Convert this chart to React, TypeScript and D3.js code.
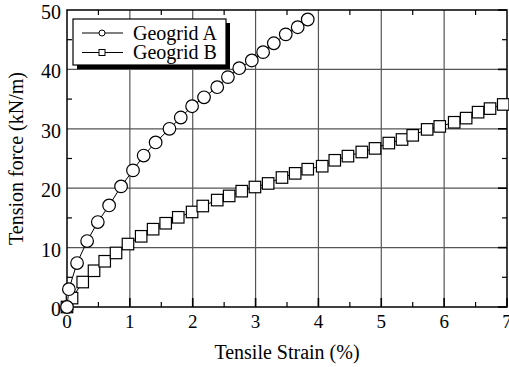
import React, { useEffect, useRef } from 'react';
import * as d3 from 'd3';

// Geogrid A (circles): strain %, tension kN/m
const strainA = [0, 0.03, 0.16, 0.32, 0.49, 0.67, 0.86, 1.05, 1.22, 1.41, 1.63, 1.81, 1.99, 2.18, 2.39, 2.56, 2.74, 2.94, 3.12, 3.29, 3.48, 3.67, 3.83];
const forceA = [0, 3.0, 7.4, 11.1, 14.3, 17.1, 20.3, 23.0, 25.5, 27.7, 30.0, 31.9, 33.8, 35.3, 37.0, 38.7, 40.2, 41.5, 42.9, 44.4, 45.9, 47.1, 48.4];

// Geogrid B (squares)
const strainB = [0, 0.08, 0.25, 0.43, 0.60, 0.78, 0.97, 1.18, 1.37, 1.57, 1.77, 1.99, 2.16, 2.39, 2.58, 2.78, 2.99, 3.20, 3.42, 3.63, 3.83, 4.06, 4.26, 4.47, 4.69, 4.90, 5.12, 5.33, 5.50, 5.73, 5.93, 6.16, 6.35, 6.54, 6.73, 6.94];
const forceB = [0, 1.5, 4.2, 6.1, 7.7, 9.1, 10.6, 11.9, 13.1, 14.1, 15.1, 16.0, 17.0, 18.0, 18.7, 19.5, 20.2, 20.8, 21.8, 22.5, 23.2, 23.7, 24.7, 25.4, 26.1, 26.7, 27.6, 28.2, 28.9, 29.9, 30.4, 31.1, 31.8, 32.8, 33.4, 34.1];

const xTicks = [0, 1, 2, 3, 4, 5, 6, 7];
const yTicks = [0, 10, 20, 30, 40, 50];
const seriesNames = ['Geogrid A', 'Geogrid B'];

const FONT = "'Liberation Serif', 'Times New Roman', Times, serif";

const App = () => {
  const ref = useRef<SVGSVGElement>(null);

  useEffect(() => {
    const svg = d3.select(ref.current);
    svg.selectAll('*').remove();

    const left = 67, right = 507, top = 10, bottom = 307;
    const x = d3.scaleLinear().domain([0, 7]).range([left, right]);
    const y = d3.scaleLinear().domain([0, 50]).range([bottom, top]);

    // grid
    const grid = svg.append('g').attr('stroke', '#555').attr('stroke-width', 1.2);
    xTicks.slice(1, -1).forEach(t => {
      grid.append('line').attr('x1', x(t)).attr('x2', x(t)).attr('y1', top).attr('y2', bottom);
    });
    yTicks.slice(1, -1).forEach(t => {
      grid.append('line').attr('x1', left).attr('x2', right).attr('y1', y(t)).attr('y2', y(t));
    });

    // minor and major ticks
    const ticks = svg.append('g').attr('stroke', '#000').attr('stroke-width', 1.2);
    d3.range(0.5, 7, 1).forEach(t => {
      ticks.append('line').attr('x1', x(t)).attr('x2', x(t)).attr('y1', bottom).attr('y2', bottom - 5);
      ticks.append('line').attr('x1', x(t)).attr('x2', x(t)).attr('y1', top).attr('y2', top + 5);
    });
    d3.range(5, 50, 10).forEach(t => {
      ticks.append('line').attr('x1', left).attr('x2', left + 5).attr('y1', y(t)).attr('y2', y(t));
      ticks.append('line').attr('x1', right).attr('x2', right - 5).attr('y1', y(t)).attr('y2', y(t));
    });
    xTicks.forEach(t => {
      ticks.append('line').attr('x1', x(t)).attr('x2', x(t)).attr('y1', bottom).attr('y2', bottom - 9).attr('stroke-width', 1.6);
    });
    yTicks.forEach(t => {
      ticks.append('line').attr('x1', right).attr('x2', right - 9).attr('y1', y(t)).attr('y2', y(t)).attr('stroke-width', 1.6);
    });

    // frame
    svg.append('rect')
      .attr('x', left).attr('y', top)
      .attr('width', right - left).attr('height', bottom - top)
      .attr('fill', 'none').attr('stroke', '#000').attr('stroke-width', 1.5);

    // tick labels
    svg.append('g').selectAll('text').data(xTicks).enter().append('text')
      .attr('x', d => x(d)).attr('y', 328)
      .attr('text-anchor', 'middle')
      .style('font-family', FONT).style('font-size', '19px')
      .text(d => d);
    svg.append('g').selectAll('text').data(yTicks).enter().append('text')
      .attr('x', 61).attr('y', d => y(d) + 9)
      .attr('text-anchor', 'end')
      .style('font-family', FONT).style('font-size', '20px')
      .text(d => d);

    // axis titles
    svg.append('text')
      .attr('x', 287).attr('y', 359)
      .attr('text-anchor', 'middle')
      .style('font-family', FONT).style('font-size', '20px')
      .text('Tensile Strain (%)');
    svg.append('text')
      .attr('transform', `translate(23,${(top + bottom) / 2}) rotate(-90)`)
      .attr('text-anchor', 'middle')
      .style('font-family', FONT).style('font-size', '20px')
      .text('Tension force (kN/m)');

    const ptsA = strainA.map((s, i) => [x(s), y(forceA[i])] as [number, number]);
    const ptsB = strainB.map((s, i) => [x(s), y(forceB[i])] as [number, number]);

    svg.append('path').attr('d', d3.line()(ptsB)).attr('fill', 'none').attr('stroke', '#000').attr('stroke-width', 1);
    svg.append('g').selectAll('rect').data(ptsB).enter().append('rect')
      .attr('x', d => d[0] - 5.75).attr('y', d => d[1] - 5.75)
      .attr('width', 11.5).attr('height', 11.5)
      .attr('fill', '#fff').attr('stroke', '#000').attr('stroke-width', 1.2);

    svg.append('path').attr('d', d3.line()(ptsA)).attr('fill', 'none').attr('stroke', '#000').attr('stroke-width', 1);
    svg.append('g').selectAll('circle').data(ptsA).enter().append('circle')
      .attr('cx', d => d[0]).attr('cy', d => d[1]).attr('r', 6.3)
      .attr('fill', '#fff').attr('stroke', '#000').attr('stroke-width', 1.2);

    // legend
    const lg = svg.append('g');
    lg.append('rect').attr('x', 77).attr('y', 23).attr('width', 153).attr('height', 46).attr('fill', '#000');
    lg.append('rect').attr('x', 73).attr('y', 19).attr('width', 153).attr('height', 46)
      .attr('fill', '#fff').attr('stroke', '#000').attr('stroke-width', 1.2);
    seriesNames.forEach((name, i) => {
      const ly = 33 + i * 19.5;
      lg.append('line').attr('x1', 82).attr('x2', 123).attr('y1', ly).attr('y2', ly).attr('stroke', '#000').attr('stroke-width', 1);
      if (i === 0) {
        lg.append('circle').attr('cx', 102).attr('cy', ly).attr('r', 3).attr('fill', '#fff').attr('stroke', '#000');
      } else {
        lg.append('rect').attr('x', 99).attr('y', ly - 3).attr('width', 6).attr('height', 6).attr('fill', '#fff').attr('stroke', '#000');
      }
      lg.append('text').attr('x', 133).attr('y', ly + 6.5)
        .style('font-family', FONT).style('font-size', '20px')
        .text(name);
    });
  }, []);

  return (
    <svg ref={ref} width={509} height={367}
      style={{ position: 'absolute', left: 0, top: 0, background: '#fff' }} />
  );
};

export default App;
